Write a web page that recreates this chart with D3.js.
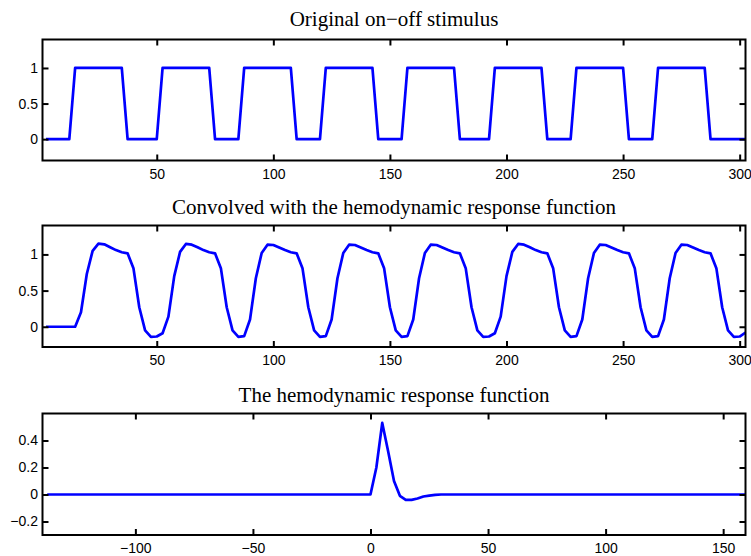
<!DOCTYPE html>
<html>
<head>
<meta charset="utf-8">
<script src="https://cdn.jsdelivr.net/npm/d3@7"></script>
<style>
body { margin: 0; background: #fff; }
svg { display: block; }
.title { font-family: "Liberation Serif", "Times New Roman", serif; font-size: 21px; }
.tick text { font-family: "Liberation Sans", Arial, sans-serif; font-size: 14px; fill: #000; }
.tick line { stroke: #000; stroke-width: 2; }
</style>
</head>
<body>
<svg width="751" height="556"></svg>
<script>
// on-off stimulus, corner points
var stimTime = [2.5, 12.5,
    15, 35, 37.5, 50,
    52.5, 72.5, 75, 85,
    87.5, 107.5, 110, 120,
    122.5, 142.5, 145, 155,
    157.5, 177.5, 180, 192.5,
    195, 215, 217.5, 227.5,
    230, 250, 252.5, 262.5,
    265, 285, 287.5, 302.5];
var stimValue = [0, 0,
    1, 1, 0, 0,
    1, 1, 0, 0,
    1, 1, 0, 0,
    1, 1, 0, 0,
    1, 1, 0, 0,
    1, 1, 0, 0,
    1, 1, 0, 0,
    1, 1, 0, 0];

// convolved signal, one sample every 2.5
var convTime = [2.5, 5, 7.5, 10, 12.5, 15, 17.5, 20, 22.5, 25,
    27.5, 30, 32.5, 35, 37.5, 40, 42.5, 45, 47.5, 50,
    52.5, 55, 57.5, 60, 62.5, 65, 67.5, 70, 72.5, 75,
    77.5, 80, 82.5, 85, 87.5, 90, 92.5, 95, 97.5, 100,
    102.5, 105, 107.5, 110, 112.5, 115, 117.5, 120, 122.5, 125,
    127.5, 130, 132.5, 135, 137.5, 140, 142.5, 145, 147.5, 150,
    152.5, 155, 157.5, 160, 162.5, 165, 167.5, 170, 172.5, 175,
    177.5, 180, 182.5, 185, 187.5, 190, 192.5, 195, 197.5, 200,
    202.5, 205, 207.5, 210, 212.5, 215, 217.5, 220, 222.5, 225,
    227.5, 230, 232.5, 235, 237.5, 240, 242.5, 245, 247.5, 250,
    252.5, 255, 257.5, 260, 262.5, 265, 267.5, 270, 272.5, 275,
    277.5, 280, 282.5, 285, 287.5, 290, 292.5, 295, 297.5, 300,
    302.5];
var convValue = [0, 0, 0, 0, 0, 0,
    0.2, 0.73, 1.05, 1.15, 1.14, 1.10, 1.06, 1.03, 1.015, 0.81, 0.27, -0.05, -0.14, -0.135,
    -0.09, 0.14, 0.70, 1.035, 1.145, 1.135, 1.10, 1.06, 1.03, 1.015, 0.81, 0.27, -0.05, -0.14,
    -0.13, 0.10, 0.67, 1.02, 1.135, 1.13, 1.095, 1.06, 1.03, 1.015, 0.81, 0.27, -0.05, -0.14,
    -0.13, 0.10, 0.67, 1.02, 1.135, 1.13, 1.095, 1.06, 1.03, 1.015, 0.81, 0.27, -0.05, -0.14,
    -0.13, 0.10, 0.67, 1.02, 1.135, 1.13, 1.095, 1.06, 1.03, 1.015, 0.81, 0.27, -0.05, -0.14, -0.135,
    -0.09, 0.14, 0.70, 1.035, 1.145, 1.135, 1.10, 1.06, 1.03, 1.015, 0.81, 0.27, -0.05, -0.14,
    -0.13, 0.10, 0.67, 1.02, 1.135, 1.13, 1.095, 1.06, 1.03, 1.015, 0.81, 0.27, -0.05, -0.14,
    -0.13, 0.10, 0.67, 1.02, 1.135, 1.13, 1.095, 1.06, 1.03, 1.015, 0.81, 0.27, -0.05, -0.14, -0.135, -0.08];

// hemodynamic response function
var hrfTime = [-137.5, 0, 2.5, 5, 7.5, 10, 12.5, 15, 17.5, 20, 22.5, 25, 27.5, 30, 160];
var hrfValue = [0, 0, 0.2, 0.53, 0.32, 0.1, -0.01, -0.04, -0.04, -0.03, -0.015, -0.008, -0.003, 0, 0];

var titles = ["Original on\u2212off stimulus",
    "Convolved with the hemodynamic response function",
    "The hemodynamic response function"];
var xTicksTop = [50, 100, 150, 200, 250, 300];
var xTicksHrf = [-100, -50, 0, 50, 100, 150];
var yTicksTop = [0, 0.5, 1];
var yTicksHrf = [-0.2, 0, 0.2, 0.4];

var panels = [
    { title: titles[0], t: stimTime, v: stimValue, xd: [1, 302.5], yd: [-0.3, 1.4],
      xt: xTicksTop, yt: yTicksTop, top: 39.5, bottom: 160.5, tb: 26 },
    { title: titles[1], t: convTime, v: convValue, xd: [1, 302.5], yd: [-0.28, 1.4],
      xt: xTicksTop, yt: yTicksTop, top: 225.5, bottom: 347, tb: 214 },
    { title: titles[2], t: hrfTime, v: hrfValue, xd: [-139.5, 159.5], yd: [-0.3, 0.6],
      xt: xTicksHrf, yt: yTicksHrf, top: 413.5, bottom: 535, tb: 401.5 }
];

var svg = d3.select("svg");
var left = 42.5, right = 745.5;
var fmt = d3.format("~g");

panels.forEach(function(p, i) {
    var x = d3.scaleLinear().domain(p.xd).range([left, right]);
    var y = d3.scaleLinear().domain(p.yd).range([p.bottom, p.top]);

    svg.append("clipPath").attr("id", "clip" + i)
        .append("rect")
        .attr("x", left).attr("y", p.top)
        .attr("width", right - left).attr("height", p.bottom - p.top);

    var pts = p.t.map(function(t, k) { return [t, p.v[k]]; });
    var line = d3.line()
        .x(function(d) { return x(d[0]); })
        .y(function(d) { return y(d[1]); });

    svg.append("path")
        .datum(pts)
        .attr("clip-path", "url(#clip" + i + ")")
        .attr("fill", "none")
        .attr("stroke", "#0000ff")
        .attr("stroke-width", 2.7)
        .attr("stroke-linejoin", "round")
        .attr("d", line);

    // ticks point inward, on all four sides
    var gb = svg.append("g")
        .attr("transform", "translate(0," + p.bottom + ")")
        .call(d3.axisBottom(x).tickValues(p.xt).tickFormat(fmt).tickSize(-6).tickPadding(8.5));
    var gt = svg.append("g")
        .attr("transform", "translate(0," + p.top + ")")
        .call(d3.axisTop(x).tickValues(p.xt).tickFormat("").tickSize(-6));
    var gl = svg.append("g")
        .attr("transform", "translate(" + left + ",0)")
        .call(d3.axisLeft(y).tickValues(p.yt).tickFormat(fmt).tickSize(-6).tickPadding(4.5));
    var gr = svg.append("g")
        .attr("transform", "translate(" + right + ",0)")
        .call(d3.axisRight(y).tickValues(p.yt).tickFormat("").tickSize(-6));
    [gb, gt, gl, gr].forEach(function(g) { g.select(".domain").remove(); });

    svg.append("rect")
        .attr("x", left).attr("y", p.top)
        .attr("width", right - left).attr("height", p.bottom - p.top)
        .attr("fill", "none")
        .attr("stroke", "#000")
        .attr("stroke-width", 2);

    svg.append("text")
        .attr("class", "title")
        .attr("x", (left + right) / 2)
        .attr("y", p.tb)
        .attr("text-anchor", "middle")
        .text(p.title);
});
</script>
</body>
</html>
